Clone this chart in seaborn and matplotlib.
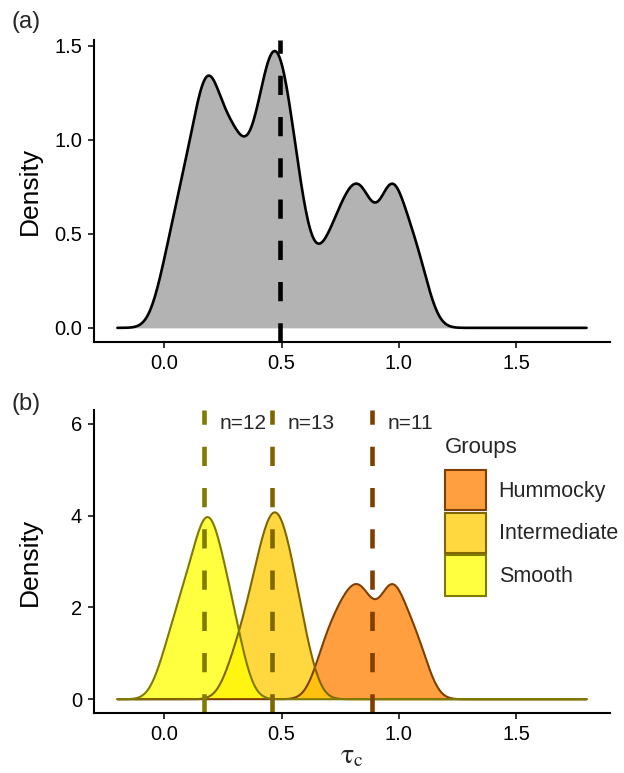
import numpy as np
import pandas as pd
import seaborn as sns
import matplotlib.pyplot as plt
from matplotlib.colors import to_rgba
from matplotlib.patches import Patch
from matplotlib.ticker import FormatStrFormatter

# tau_c values per roughness group
groups = ['Hummocky', 'Intermediate', 'Smooth']
smooth = [0.01, 0.065, 0.09, 0.125, 0.15, 0.17, 0.185, 0.20, 0.215, 0.245,
          0.275, 0.31]
intermediate = [0.30, 0.355, 0.385, 0.41, 0.43, 0.45, 0.465, 0.48, 0.495,
                0.515, 0.535, 0.56, 0.60]
hummocky = [0.68, 0.735, 0.775, 0.81, 0.845, 0.87, 0.945, 0.96, 0.99, 1.035,
            1.09]

fills = ['#FF7F00', '#FFCC00', '#FFFF00']
edges = ['#7F3F00', '#7F6600', '#7F7A00']

BW = 0.05
CLIP = (-0.2, 1.8)

df = pd.DataFrame({
    'tau': hummocky + intermediate + smooth,
    'group': ['Hummocky'] * len(hummocky) + ['Intermediate'] * len(intermediate)
             + ['Smooth'] * len(smooth),
})

sns.set_style('ticks')
plt.rcParams['font.family'] = ['Liberation Sans', 'DejaVu Sans']
plt.rcParams['mathtext.fontset'] = 'stix'

fig = plt.figure(figsize=(6.24, 7.73), dpi=100)
ax1 = fig.add_axes([0.1506, 0.5576, 0.827, 0.3907])
ax2 = fig.add_axes([0.1506, 0.0776, 0.827, 0.392])


def kde(ax, x, fill, edge, alpha, lw):
    bw = BW / np.std(x, ddof=1)
    sns.kdeplot(x=x, ax=ax, fill=True, color=fill, alpha=alpha, linewidth=0,
                bw_method=bw, clip=CLIP, cut=100, gridsize=400)
    sns.kdeplot(x=x, ax=ax, fill=False, color=edge, linewidth=lw,
                bw_method=bw, clip=CLIP, cut=100, gridsize=400)


dash = (0, (4.2, 4.8))

# (a) all data
alltau = df['tau'].to_numpy()
kde(ax1, alltau, '#B3B3B3', 'black', 1, 1.9)
ax1.axvline(alltau.mean(), color='black', lw=3.3, linestyle=dash)
ax1.set_xlim(-0.3, 1.9)
ax1.set_ylim(-0.075, 1.53)
ax1.set_yticks([0, 0.5, 1.0, 1.5])
ax1.yaxis.set_major_formatter(FormatStrFormatter('%.1f'))

# (b) by group
for g, fc, ec in zip(groups, fills, edges):
    x = df.loc[df['group'] == g, 'tau'].to_numpy()
    kde(ax2, x, fc, ec, 0.75, 1.5)
for g, ec in zip(groups, edges):
    x = df.loc[df['group'] == g, 'tau'].to_numpy()
    ax2.axvline(x.mean(), color=ec, lw=3.3, linestyle=dash)
    ax2.text(x.mean() + 0.165, 6, f'n={len(x)}', ha='center', va='center',
             fontsize=15)
ax2.set_xlim(-0.3, 1.9)
ax2.set_ylim(-0.3, 6.3)
ax2.set_yticks([0, 2, 4, 6])

for ax in (ax1, ax2):
    sns.despine(ax=ax)
    ax.set_xticks([0, 0.5, 1.0, 1.5])
    ax.xaxis.set_major_formatter(FormatStrFormatter('%.1f'))
    ax.tick_params(labelsize=14.5, length=4.5, width=1.1, color='black',
                   labelcolor='black', pad=4)
    for s in ('left', 'bottom'):
        ax.spines[s].set_color('black')
        ax.spines[s].set_linewidth(1.5)
    ax.set_ylabel('Density', fontsize=19, color='black')
    ax.yaxis.set_label_coords(-0.1017, 0.5)

ax1.set_xlabel('')
ax2.set_xlabel(r'$\mathrm{\tau}_{\mathrm{c}}$', fontsize=20, labelpad=0)

handles = [Patch(facecolor=to_rgba(fc, 0.75), edgecolor=ec, linewidth=1.5)
           for fc, ec in zip(fills, edges)]
ax2.text(0.68, 0.875, 'Groups', transform=ax2.transAxes, fontsize=16,
         ha='left', va='center')
ax2.legend(handles, groups, loc='upper left', bbox_to_anchor=(0.68, 0.802),
           frameon=False, fontsize=15.5, borderpad=0, borderaxespad=0,
           handlelength=1.9, handleheight=2.49, labelspacing=0.12,
           handletextpad=0.6)

fig.text(0.018, 0.972, '(a)', fontsize=17, va='center')
fig.text(0.018, 0.478, '(b)', fontsize=17, va='center')

fig.savefig('out.png', dpi=100)
